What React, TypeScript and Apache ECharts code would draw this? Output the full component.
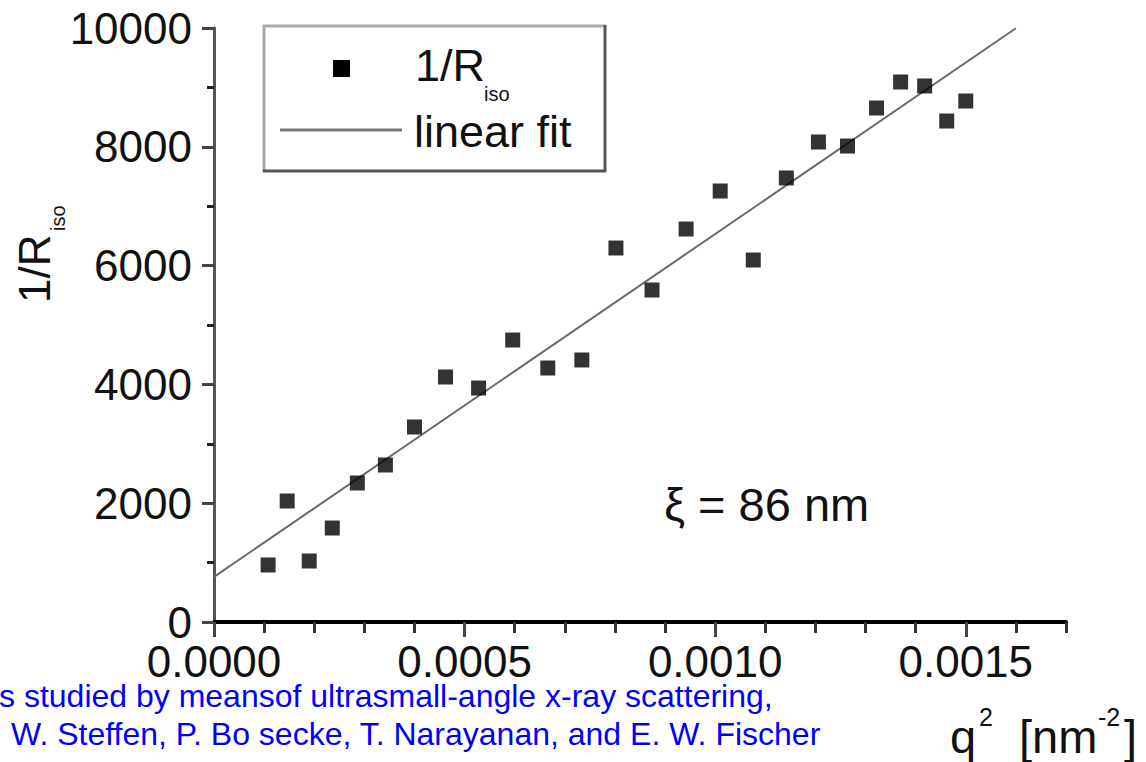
import React, { useEffect, useRef } from "react";
import * as echarts from "echarts";

// q^2 [nm^-2] values of the measured points
const qSquared = [
  0.000108, 0.000146, 0.00019, 0.000236, 0.000286, 0.000342, 0.0004, 0.000462,
  0.000528, 0.000596, 0.000666, 0.000734, 0.000802, 0.000874, 0.000942, 0.00101,
  0.001076, 0.001142, 0.001206, 0.001264, 0.001322, 0.00137, 0.001418, 0.001462,
  0.0015,
];
// 1/R_iso values of the measured points
const invRiso = [
  960, 2037, 1027, 1582, 2340, 2643, 3283, 4125, 3939, 4747, 4276, 4411, 6296,
  5589, 6616, 7256, 6094, 7475, 8081, 8013, 8653, 9091, 9024, 8434, 8771,
];
// linear fit end points
const fitQ = [0, 0.0016];
const fitInvR = [760, 9995];

const xMajorTicks = [0, 0.0005, 0.001, 0.0015];
const yMajorTicks = [0, 2000, 4000, 6000, 8000, 10000];

const legendLabels = ["1/R", "iso", "linear fit"];
const xiText = "\u03BE = 86 nm";
const captionLines = [
  "s studied by meansof ultrasmall-angle x-ray scattering,",
  "W. Steffen, P. Bo secke, T. Narayanan, and E. W. Fischer",
];

const FONT = "'Liberation Sans', Arial, Helvetica, sans-serif";

export default function App() {
  const ref = useRef<HTMLDivElement>(null);

  useEffect(() => {
    if (!ref.current) return;
    const chart = echarts.init(ref.current, undefined, { renderer: "svg" });

    const scatterData = qSquared.map((q, i) => [q, invRiso[i]]);
    const fitData = fitQ.map((q, i) => [q, fitInvR[i]]);

    const txt = (
      x: number,
      y: number,
      text: string,
      fontSize: number,
      fill = "#111",
      extra: any = {}
    ) => ({
      type: "text",
      x,
      y,
      silent: true,
      style: {
        text,
        fontSize,
        fontFamily: FONT,
        fill,
        align: "left",
        verticalAlign: "middle",
        ...extra,
      },
    });

    const option: any = {
      animation: false,
      backgroundColor: "#ffffff",
      grid: { left: 214, top: 28, right: 80, bottom: 140, containLabel: false },
      xAxis: [
        {
          type: "value",
          position: "bottom",
          min: 0,
          max: 0.0017,
          interval: 0.0001,
          axisLine: { show: true, lineStyle: { color: "#000", width: 4 } },
          axisTick: { show: true, length: 11, lineStyle: { color: "#333", width: 3 } },
          axisLabel: { show: false },
          splitLine: { show: false },
        },
        {
          type: "value",
          position: "bottom",
          min: 0,
          max: 0.0017,
          interval: 0.0005,
          axisLine: { show: false },
          axisTick: {
            show: true,
            length: 15,
            customValues: xMajorTicks,
            lineStyle: { color: "#444", width: 3 },
          },
          axisLabel: {
            show: true,
            customValues: xMajorTicks,
            margin: 20,
            fontSize: 44,
            lineHeight: 38,
            fontFamily: FONT,
            color: "#111",
            formatter: (v: number) => v.toFixed(4),
          },
          splitLine: { show: false },
        },
      ],
      yAxis: [
        {
          type: "value",
          position: "left",
          min: 0,
          max: 10000,
          interval: 1000,
          axisLine: { show: true, lineStyle: { color: "#555", width: 3 } },
          axisTick: { show: true, length: 7, lineStyle: { color: "#222", width: 3 } },
          axisLabel: { show: false },
          splitLine: { show: false },
        },
        {
          type: "value",
          position: "left",
          min: 0,
          max: 10000,
          interval: 2000,
          axisLine: { show: false },
          axisTick: {
            show: true,
            length: 12,
            customValues: yMajorTicks,
            lineStyle: { color: "#444", width: 3 },
          },
          axisLabel: {
            show: true,
            customValues: yMajorTicks,
            margin: 22,
            fontSize: 44,
            lineHeight: 34,
            fontFamily: FONT,
            color: "#111",
            formatter: (v: number) => String(v),
          },
          splitLine: { show: false },
        },
      ],
      series: [
        {
          type: "line",
          name: "linear fit",
          xAxisIndex: 0,
          yAxisIndex: 0,
          data: fitData,
          showSymbol: false,
          symbol: "none",
          lineStyle: { color: "#6a6a6a", width: 2 },
          z: 2,
        },
        {
          type: "scatter",
          name: "1/R_iso",
          xAxisIndex: 0,
          yAxisIndex: 0,
          data: scatterData,
          symbol: "rect",
          symbolSize: 15,
          itemStyle: { color: "#000" },
          z: 3,
        },
      ],
      graphic: [
        // y-axis name, rotated
        {
          type: "group",
          x: 34,
          y: 303,
          rotation: Math.PI / 2,
          children: [
            txt(0, 0, legendLabels[0], 44),
            txt(72, 24, legendLabels[1], 20),
          ],
        },
        // legend box
        { type: "line", shape: { x1: 263, y1: 26, x2: 606, y2: 26 }, style: { stroke: "#aaa", lineWidth: 3 } },
        { type: "line", shape: { x1: 264, y1: 25, x2: 264, y2: 172 }, style: { stroke: "#aaa", lineWidth: 3 } },
        { type: "line", shape: { x1: 605, y1: 25, x2: 605, y2: 172 }, style: { stroke: "#555", lineWidth: 3 } },
        { type: "line", shape: { x1: 263, y1: 171, x2: 606, y2: 171 }, style: { stroke: "#555", lineWidth: 3 } },
        { type: "rect", shape: { x: 333, y: 60, width: 17, height: 17 }, style: { fill: "#000" } },
        txt(415, 65, legendLabels[0], 45),
        txt(484, 94, legendLabels[1], 20),
        { type: "line", shape: { x1: 280, y1: 130, x2: 402, y2: 130 }, style: { stroke: "#777", lineWidth: 3 } },
        txt(414, 131, legendLabels[2], 45),
        // xi annotation
        txt(664, 504, xiText, 47),
        // x-axis name q^2 [nm^-2]
        txt(950, 736, "q", 47),
        txt(979, 717, "2", 25),
        txt(1019, 736, "[nm", 47),
        txt(1098, 717, "-2", 25),
        txt(1124, 736, "]", 47),
        // blue caption
        txt(-1, 696, captionLines[0], 32, "#0000ff", { lineHeight: 26 }),
        txt(11, 734, captionLines[1], 32, "#0000ff", { lineHeight: 26 }),
      ],
    };

    chart.setOption(option);
    return () => chart.dispose();
  }, []);

  return (
    <div
      ref={ref}
      style={{ position: "absolute", left: 0, top: 0, width: 1146, height: 762, background: "#fff" }}
    />
  );
}
